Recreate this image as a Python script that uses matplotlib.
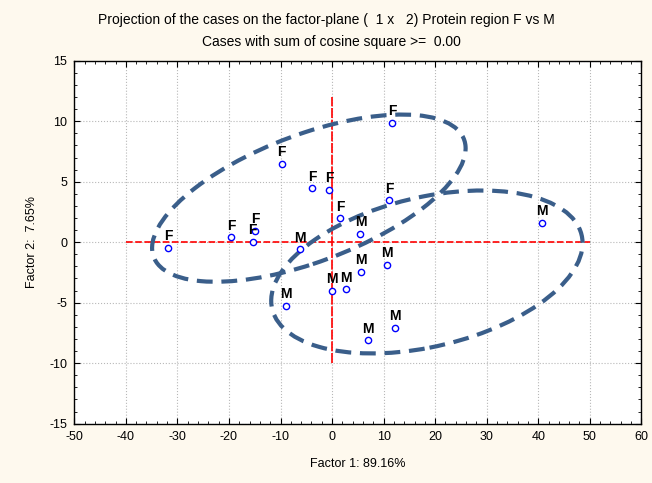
import matplotlib
matplotlib.use("Agg")
import matplotlib.pyplot as plt
from matplotlib.patches import Ellipse
from matplotlib.ticker import MultipleLocator

plt.rcParams['font.family'] = ['Liberation Sans', 'DejaVu Sans']
plt.rcParams['axes.unicode_minus'] = False

# Case coordinates on factor plane (Factor 1, Factor 2)
f_x = [11.7, -9.8, -3.8, -0.6, 11.1, 1.6, -19.6, -14.9, -15.4, -31.8]
f_y = [9.87, 6.45, 4.44, 4.33, 3.45, 1.96, 0.39, 0.94, 0.03, -0.44]
m_x = [5.5, -6.2, 10.6, 40.8, 5.6, 0.0, 2.7, -9.0, 12.2, 6.9]
m_y = [0.69, -0.60, -1.90, 1.60, -2.45, -4.05, -3.90, -5.29, -7.07, -8.12]

# group ellipses: centre x, centre y, width, height, angle
f_ellipse = (-4.5, 3.64, 61.4, 11.0, 7.96)
m_ellipse = (18.4, -2.46, 60.6, 12.56, 4.7)

title1 = "Projection of the cases on the factor-plane (  1 x   2) Protein region F vs M"
title2 = "Cases with sum of cosine square >=  0.00"

fig = plt.figure(figsize=(6.52, 4.83), dpi=100)
fig.patch.set_facecolor('#FEF9EE')
ax = fig.add_axes([0.114, 0.1228, 0.8696, 0.7515])
ax.set_facecolor('white')

ax.set_xlim(-50, 60)
ax.set_ylim(-15, 15)
ax.xaxis.set_major_locator(MultipleLocator(10))
ax.xaxis.set_minor_locator(MultipleLocator(2))
ax.yaxis.set_major_locator(MultipleLocator(5))
ax.yaxis.set_minor_locator(MultipleLocator(1))
ax.tick_params(which='both', direction='in', top=True, right=True, labelsize=9, pad=5)
ax.tick_params(which='major', length=4, width=0.8)
ax.tick_params(which='minor', length=2, width=0.6)
for s in ax.spines.values():
    s.set_linewidth(1.0)
ax.grid(which='major', color='#b8b8b8', linestyle=':', linewidth=0.8)
ax.set_axisbelow(True)

# reference axes in red
ax.plot([-40, 50], [0, 0], color='red', linestyle=(0, (4, 1.5)), linewidth=1.2, zorder=2)
ax.plot([0, 0], [-10, 12], color='red', linestyle=(0, (6, 1)), linewidth=1.2, zorder=2)

for cx, cy, w, h, ang in [f_ellipse, m_ellipse]:
    ax.add_patch(Ellipse((cx, cy), w, h, angle=ang, fill=False, edgecolor='#3A5E8A',
                         linewidth=3, linestyle=(0, (3.8, 2.1)), zorder=3))

ax.plot(f_x + m_x, f_y + m_y, linestyle='none', marker='o', markersize=4.5,
        markerfacecolor='white', markeredgecolor='blue', markeredgewidth=1, zorder=4)
for x, y in zip(f_x, f_y):
    ax.annotate('F', (x, y), xytext=(0, 3.5), textcoords='offset points', ha='center', va='bottom',
                fontsize=10, fontweight='bold', zorder=5)
for x, y in zip(m_x, m_y):
    ax.annotate('M', (x, y), xytext=(0, 3.5), textcoords='offset points', ha='center', va='bottom',
                fontsize=10, fontweight='bold', zorder=5)

ax.set_xlabel("Factor 1: 89.16%", fontsize=9, labelpad=11)
ax.set_ylabel("Factor 2:  7.65%", fontsize=9, labelpad=8)
fig.text(0.5, 0.958, title1, ha='center', va='center', fontsize=10)
fig.text(0.508, 0.913, title2, ha='center', va='center', fontsize=10)

fig.savefig("out.png", dpi=100, facecolor=fig.get_facecolor())
